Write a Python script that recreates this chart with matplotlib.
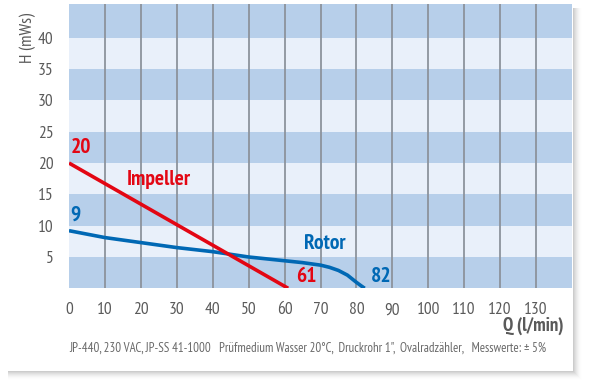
import matplotlib.pyplot as plt
from matplotlib.patches import Rectangle

# Pumpenkennlinien (Q in l/min, H in mWs)
impeller_q = [0, 61]
impeller_h = [20, 0]

rotor_q = [0, 10, 20, 30, 40, 50, 55, 60, 65, 70, 72.5, 75, 77.5, 80, 81.3, 82.3]
rotor_h = [9.2, 8.1, 7.3, 6.5, 5.85, 5.0, 4.7, 4.4, 4.1, 3.7, 3.35, 2.85, 2.1, 0.95, 0.4, 0]

x_ticks = list(range(0, 140, 10))
y_ticks = [5, 10, 15, 20, 25, 30, 35, 40]
band_edges = [0, 5, 10, 15, 20, 25, 30, 35, 40, 45.4]

red = '#e30613'
blue = '#0068b4'
grey = '#5a5a5a'
dark_band = '#b7cfea'
light_band = '#e9f0fa'

plt.rcParams['font.family'] = ['PT Sans Narrow', 'Liberation Sans', 'DejaVu Sans']

fig = plt.figure(figsize=(5.91, 3.9), dpi=100)
fig.patch.set_facecolor('white')

# panel shadow on the right and at the bottom
W, H = 591, 390
for i in range(10):
    a = 0.045 * (1 - i / 10)
    fig.patches.append(Rectangle((8 / W, (390 - 371 - i) / H), (565 + i) / W, (371 + i - 8) / H,
                                 transform=fig.transFigure, facecolor='black', alpha=a,
                                 edgecolor='none', zorder=0))
fig.patches.append(Rectangle((0, (390 - 371) / H), 573 / W, 371 / H,
                             transform=fig.transFigure, facecolor='white',
                             edgecolor='none', zorder=1))

ax = fig.add_axes([69 / W, 1 - 288.3 / H, (572 - 69) / W, (288.3 - 4) / H])
ax.set_zorder(2)
ax.set_xlim(0, 140)
ax.set_ylim(0, 45.4)

for i in range(len(band_edges) - 1):
    ax.axhspan(band_edges[i], band_edges[i + 1],
               color=dark_band if i % 2 == 0 else light_band, lw=0, zorder=0)

for x in x_ticks[1:]:
    ax.axvline(x, color='#8c939c', lw=1.3, zorder=1)

ax.plot(rotor_q, rotor_h, color=blue, lw=2.6, zorder=3, solid_capstyle='butt')
ax.plot(impeller_q, impeller_h, color=red, lw=2.6, zorder=4, solid_capstyle='butt')

lab = dict(fontsize=15.5, fontweight='bold')
ax.text(0.4, 21.0, '20', color=red, ha='left', va='bottom', **lab)
ax.text(16, 15.9, 'Impeller', color=red, ha='left', va='bottom', **lab)
ax.text(0.4, 10.2, '9', color=blue, ha='left', va='bottom', **lab)
ax.text(65.5, 5.6, 'Rotor', color=blue, ha='left', va='bottom', **lab)
ax.text(63.3, 0.3, '61', color=red, ha='left', va='bottom', **lab)
ax.text(84, 0.3, '82', color=blue, ha='left', va='bottom', **lab)

for s in ax.spines.values():
    s.set_visible(False)
ax.set_xticks(x_ticks)
ax.set_yticks(y_ticks)
ax.tick_params(length=0, labelsize=12.5, labelcolor=grey, pad=10)
ax.tick_params(axis='y', pad=11)

fig.text(28 / W, 1 - 38 / H, 'H (mWs)', rotation=90, ha='center', va='center',
         fontsize=12.5, color=grey)
fig.text(564 / W, 1 - 326 / H, 'Q (l/min)', ha='right', va='center',
         fontsize=13.5, color=grey, fontweight='bold')
fig.text(69 / W, 1 - 348 / H,
         'JP-440, 230 VAC, JP-SS 41-1000   Prüfmedium Wasser 20°C,  Druckrohr 1",  '
         'Ovalradzähler,   Messwerte: ± 5%',
         ha='left', va='center', fontsize=9.3, color='#6a6a6a')

fig.savefig('out.png', dpi=100, facecolor='white')
